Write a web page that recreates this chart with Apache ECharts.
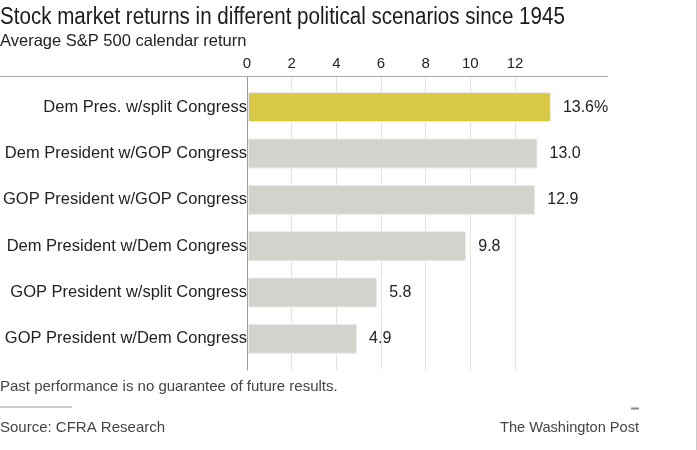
<!DOCTYPE html>
<html>
<head>
<meta charset="utf-8">
<script src="https://cdn.jsdelivr.net/npm/echarts@6/dist/echarts.min.js"></script>
<style>
  html, body { margin: 0; padding: 0; background: #fff; }
  #chart { width: 697px; height: 450px; }
</style>
</head>
<body>
<div id="chart"></div>
<script>
const categories = [
  'Dem Pres. w/split Congress',
  'Dem President w/GOP Congress',
  'GOP President w/GOP Congress',
  'Dem President w/Dem Congress',
  'GOP President w/split Congress',
  'GOP President w/Dem Congress'
]
const returns = [13.6, 13.0, 12.9, 9.8, 5.8, 4.9]
const highlightIndex = 0
const tickMax = 12
const tickStep = 2

const font = '"Liberation Sans", Arial, sans-serif'
const textColor = '#222'

// plot edges (px)
const zeroX = 247
const tickMaxX = 515
const lineEndX = 608
const barMax = tickMax * (lineEndX - zeroX) / (tickMaxX - zeroX)

function txt(text, x, y, size, color, scaleX, align) {
  return {
    type: 'text', x: x, y: y, scaleX: scaleX || 1,
    style: {
      text: text, fontFamily: font, fontSize: size, fill: color,
      textAlign: align || 'left', textVerticalAlign: 'middle'
    }
  }
}

const chart = echarts.init(document.getElementById('chart'))

chart.setOption({
  animation: false,
  textStyle: { fontFamily: font },
  graphic: [
    txt('Stock market returns in different political scenarios since 1945', 0, 18, 23, '#1a1a1a', 0.895),
    txt('Average S&P 500 calendar return', 0, 41, 16.5, '#222'),
    txt('Past performance is no guarantee of future results.', 0, 387, 15, '#444'),
    txt('Source: CFRA Research', 0, 428, 15, '#444'),
    txt('The Washington Post', 639, 428, 14.6, '#444', 1, 'right'),
    { type: 'line', shape: { x1: 0, y1: 76.5, x2: lineEndX, y2: 76.5 }, style: { stroke: '#aaa', lineWidth: 1 } },
    { type: 'line', shape: { x1: 0, y1: 407, x2: 72, y2: 407 }, style: { stroke: '#ccc', lineWidth: 2 } },
    { type: 'line', shape: { x1: 631, y1: 408.5, x2: 639, y2: 408.5 }, style: { stroke: '#888', lineWidth: 2 } },
    { type: 'line', shape: { x1: 696.5, y1: 0, x2: 696.5, y2: 450 }, style: { stroke: '#ccc', lineWidth: 1 } }
  ],
  grid: [
    { left: zeroX, width: tickMaxX - zeroX, top: 77, bottom: 80 },
    { left: zeroX, width: lineEndX - zeroX, top: 84, height: 278 }
  ],
  xAxis: [
    {
      gridIndex: 0, type: 'value', position: 'top', min: 0, max: tickMax, interval: tickStep,
      axisLine: { show: false }, axisTick: { show: false },
      axisLabel: { color: textColor, fontSize: 15, margin: 6 },
      splitLine: { lineStyle: { color: '#e2e2e2', width: 1 } }
    },
    {
      gridIndex: 1, type: 'value', min: 0, max: barMax, show: false
    }
  ],
  yAxis: [
    {
      gridIndex: 0, type: 'category', data: [''],
      axisLine: { lineStyle: { color: '#999' } }, axisTick: { show: false }, axisLabel: { show: false }
    },
    {
      gridIndex: 1, type: 'category', data: categories, inverse: true,
      axisLine: { show: false }, axisTick: { show: false },
      axisLabel: { color: textColor, fontSize: 16.5, margin: 1 }
    }
  ],
  series: [{
    type: 'bar',
    xAxisIndex: 1,
    yAxisIndex: 1,
    barWidth: 30,
    data: returns.map((v, i) => ({
      value: v,
      itemStyle: { color: i === highlightIndex ? '#d8c846' : '#d3d3ce' }
    })),
    itemStyle: { borderColor: '#ececea', borderWidth: 1 },
    label: {
      show: true, position: 'right', distance: 12,
      color: textColor, fontSize: 16,
      formatter: p => p.dataIndex === highlightIndex ? p.value.toFixed(1) + '%' : p.value.toFixed(1)
    }
  }]
})
</script>
</body>
</html>
